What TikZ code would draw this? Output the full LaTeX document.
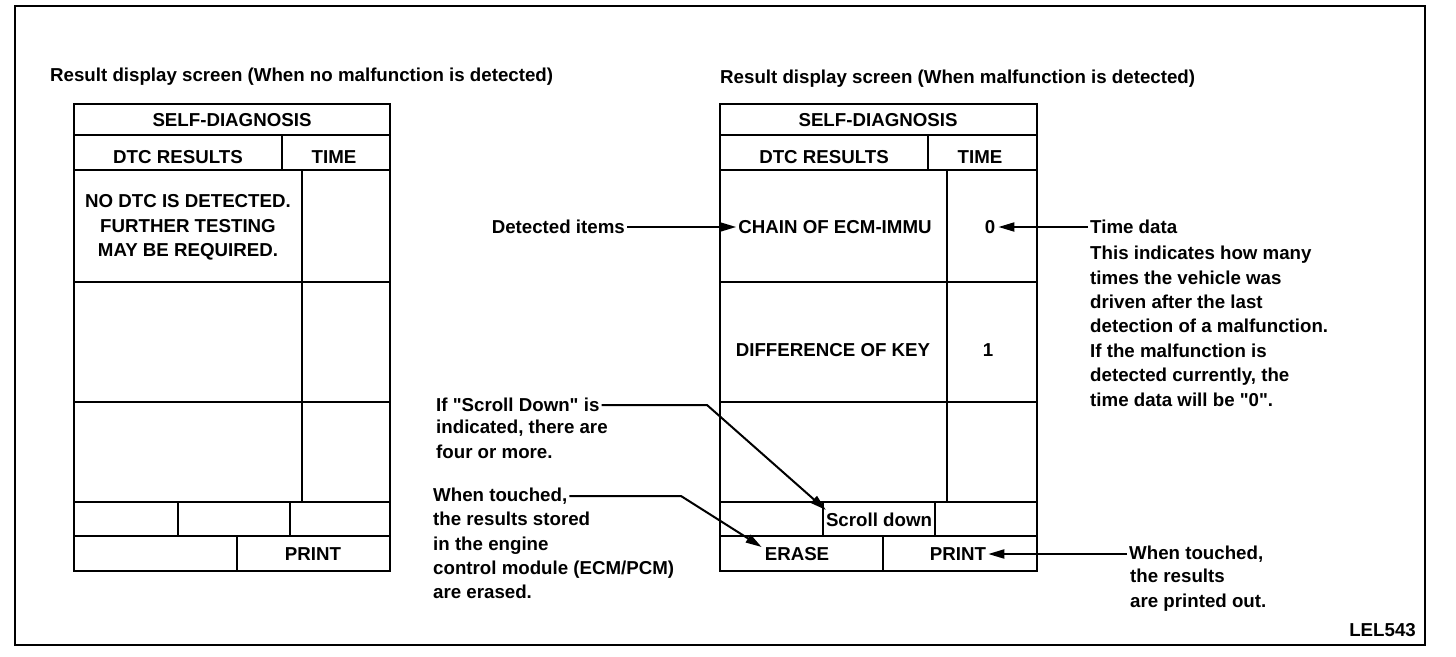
\documentclass[tikz,border=0pt]{standalone}
\usepackage{fontspec}
\setmainfont{Liberation Sans}
\usetikzlibrary{arrows.meta,calc}
\tikzset{
  tbl/.style={line width=1.9pt},
  frame/.style={line width=2pt},
  txt/.style={font=\fontsize{18.7}{24.4}\selectfont\bfseries, inner sep=0pt},
  lbl/.style={txt, inner sep=2pt},
  conn/.style={line width=2pt, -{Triangle[length=16pt,width=9pt]}}
}
\begin{document}
\begin{tikzpicture}[x=1pt,y=-1pt]
\useasboundingbox (0,0) rectangle (1456,656);
% outer frame
\draw[frame] (14.5,5.5) rectangle (1425,645);

% titles
\node[txt, anchor=base west] (tleft) at (50,81) {Result display screen (When no malfunction is detected)};
\node[txt, anchor=base west] (tright) at (720,83) {Result display screen (When malfunction is detected)};

% ---------- left table ----------
\draw[tbl] (74,104) rectangle (390,571);
\draw[tbl] (74,135) -- (390,135);
\draw[tbl] (74,170) -- (390,170);
\draw[tbl] (282,135) -- (282,170);
\draw[tbl] (302,170) -- (302,502);
\draw[tbl] (74,282) -- (390,282);
\draw[tbl] (74,402) -- (390,402);
\draw[tbl] (74,502) -- (390,502);
\draw[tbl] (74,536) -- (390,536);
\draw[tbl] (178,502) -- (178,536);
\draw[tbl] (290,502) -- (290,536);
\draw[tbl] (237,536) -- (237,571);

\node[txt] (lself) at (232,120) {SELF-DIAGNOSIS};
\node[txt] (ldtc) at (178,157) {DTC RESULTS};
\node[txt] (ltime) at (334,157) {TIME};
\node[txt, align=center] (lnodtc) at (188,227.5) {NO DTC IS DETECTED.\\FURTHER TESTING\\MAY BE REQUIRED.};
\node[txt] (lprint) at (313,554) {PRINT};

% ---------- right table ----------
\draw[tbl] (720,104) rectangle (1037,571);
\draw[tbl] (720,135) -- (1037,135);
\draw[tbl] (720,170) -- (1037,170);
\draw[tbl] (928,135) -- (928,170);
\draw[tbl] (947,170) -- (947,502);
\draw[tbl] (720,282) -- (1037,282);
\draw[tbl] (720,402) -- (1037,402);
\draw[tbl] (720,502) -- (1037,502);
\draw[tbl] (720,536) -- (1037,536);
\draw[tbl] (823,502) -- (823,536);
\draw[tbl] (935,502) -- (935,536);
\draw[tbl] (883,536) -- (883,571);

\node[txt] (rself) at (878,120) {SELF-DIAGNOSIS};
\node[txt] (rdtc) at (824,157) {DTC RESULTS};
\node[txt] (rtime) at (980,157) {TIME};
\node[txt] (chain) at (835,227) {CHAIN OF ECM-IMMU};
\node[txt] (zero) at (990,227) {0};
\node[txt] (diff) at (833,350) {DIFFERENCE OF KEY};
\node[txt] (one) at (988,350) {1};
\node[txt] (scroll) at (879,520) {Scroll down};
\node[txt] (erase) at (797,554) {ERASE};
\node[txt] (rprint) at (958,554) {PRINT};

% ---------- annotations ----------
\node[lbl, anchor=east] (det) at (627,227) {Detected items};
\draw[conn] (det.east) -- ($(chain.west)+(-2,0)$);

\node[lbl, anchor=west] (tdtitle) at (1088,227) {Time data};
\node[txt, anchor=north west, align=left] (tdbody) at (1090,246)
  {This indicates how many\\times the vehicle was\\driven after the last\\detection of a malfunction.\\If the malfunction is\\detected currently, the\\time data will be \textquotedbl0\textquotedbl.};
\draw[conn] (tdtitle.west) -- ($(zero.east)+(3,0)$);

\node[lbl, anchor=west] (sc1) at (434,405) {If \textquotedbl Scroll Down\textquotedbl\ is};
\node[txt, anchor=north west, align=left] (sc2) at (436,420) {indicated, there are\\four or more.};
\coordinate (scK) at (707,405);
\draw[conn] (sc1.east) -- (scK) -- ($(scroll.north west)+(0,-3)$);

\node[lbl, anchor=west] (er1) at (431,496) {When touched,};
\node[txt, anchor=north west, align=left] (er2) at (433,512) {the results stored\\in the engine\\control module (ECM/PCM)\\are erased.};
\coordinate (erK) at (681,496);
\draw[conn] (er1.east) -- (erK) -- ($(erase.west)+(-3,-7)$);

\node[lbl, anchor=west] (pr1) at (1127,554) {When touched,};
\node[txt, anchor=north west, align=left] (pr2) at (1130,569) {the results\\are printed out.};
\draw[conn] (pr1.west) -- ($(rprint.east)+(2,0)$);

\node[txt, anchor=base east] (code) at (1416,636) {LEL543};
\end{tikzpicture}
\end{document}
